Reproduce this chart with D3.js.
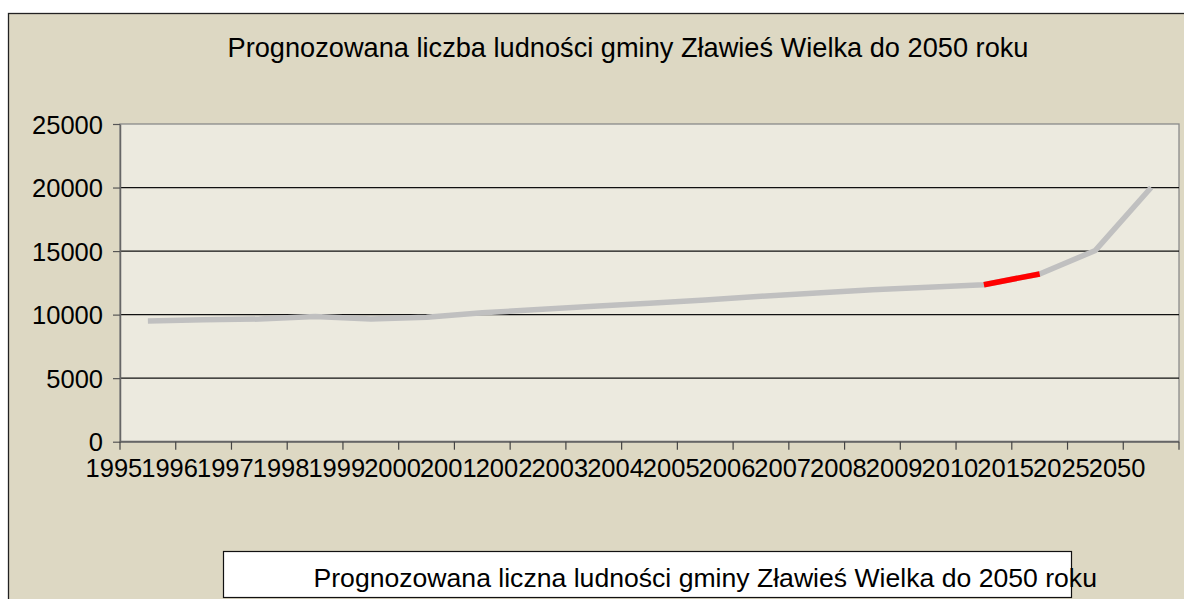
<!DOCTYPE html>
<html>
<head>
<meta charset="utf-8">
<script src="https://cdn.jsdelivr.net/npm/d3@7"></script>
<style>
  html, body { margin: 0; padding: 0; background: #ffffff; overflow: hidden; }
  text { font-family: "Liberation Sans", Arial, sans-serif; fill: #000; }
</style>
</head>
<body>
<svg id="chart" width="1184" height="599"></svg>
<script>
// data
const years = ["1995","1996","1997","1998","1999","2000","2001","2002","2003","2004",
               "2005","2006","2007","2008","2009","2010","2015","2025","2050"];
const population = [9500, 9600, 9650, 9850, 9650, 9800, 10150, 10400, 10650, 10900,
                    11150, 11450, 11700, 11950, 12150, 12350, 13200, 15050, 20000];
const highlightYears = ["2010", "2015"];
const yTicks = [0, 5000, 10000, 15000, 20000, 25000];
const chartTitle = "Prognozowana liczba ludności gminy Zławieś Wielka do 2050 roku";
const legendLabel = "Prognozowana liczna ludności gminy Zławieś Wielka do 2050 roku";

let margin = {top: 124, right: 5, bottom: 158, left: 120},
    width = 1184 - margin.left - margin.right,
    height = 599 - margin.top - margin.bottom + 0.7;

const svg = d3.select("#chart");

// outer chart area (runs off the right and bottom edge like the original)
svg.append("rect")
  .attr("x", 8.5).attr("y", 13.5)
  .attr("width", 1240).attr("height", 620)
  .style("fill", "#ddd8c3")
  .style("stroke", "#222")
  .style("stroke-width", 1.3);

svg.append("text")
  .attr("x", 8 + 1240 / 2)
  .attr("y", 57)
  .attr("text-anchor", "middle")
  .style("font-size", "27.2px")
  .text(chartTitle);

let x = d3.scaleBand().domain(years).range([0, width]);
let y = d3.scaleLinear().domain([0, 25000]).range([height, 0]);

let g = svg.append("g")
  .attr("transform", "translate(" + margin.left + "," + margin.top + ")");

g.append("rect")
  .attr("width", width).attr("height", height)
  .style("fill", "#eceadf")
  .style("stroke", "#8a8a8a")
  .style("stroke-width", 1.3);

// grid
g.selectAll(".grid")
  .data(yTicks.filter(d => d > 0 && d < 25000))
  .enter().append("line")
  .attr("class", "grid")
  .attr("x1", 0).attr("x2", width)
  .attr("y1", d => y(d)).attr("y2", d => y(d))
  .style("stroke", "#111")
  .style("stroke-width", 1.2);

// y axis
let yAxis = d3.axisLeft(y)
  .tickValues(yTicks)
  .tickFormat(d3.format("d"))
  .tickSize(7).tickPadding(10).tickSizeOuter(0);
let yG = g.append("g").call(yAxis);
yG.select(".domain").style("stroke", "#666").style("stroke-width", 1.5);
yG.selectAll(".tick line").style("stroke", "#555").style("stroke-width", 1.2);
yG.selectAll(".tick text").style("font-size", "25.5px").attr("dy", "0.36em");

// x axis: ticks on category boundaries, labels shifted like the original
let xG = g.append("g").attr("transform", "translate(0," + height + ")");
xG.append("line")
  .attr("x1", 0).attr("x2", width)
  .style("stroke", "#666").style("stroke-width", 2);
xG.selectAll(".xtick")
  .data(years.concat(["end"]))
  .enter().append("line")
  .attr("class", "xtick")
  .attr("x1", d => d === "end" ? width : x(d))
  .attr("x2", d => d === "end" ? width : x(d))
  .attr("y1", 0).attr("y2", 8)
  .style("stroke", "#444").style("stroke-width", 1.2);
xG.selectAll(".xlabel")
  .data(years)
  .enter().append("text")
  .attr("class", "xlabel")
  .attr("x", d => x(d) + x.bandwidth() / 2 - 34)
  .attr("y", 35)
  .attr("text-anchor", "middle")
  .style("font-size", "25.5px")
  .text(d => d);

// series
let points = years.map((d, i) => ({year: d, value: population[i]}));
let line = d3.line()
  .x(d => x(d.year) + x.bandwidth() / 2)
  .y(d => y(d.value));

g.append("path")
  .datum(points)
  .attr("d", line)
  .style("fill", "none")
  .style("stroke", "#c0c0c0")
  .style("stroke-width", 5.5)
  .style("stroke-linejoin", "round");

g.append("path")
  .datum(points.filter(d => highlightYears.includes(d.year)))
  .attr("d", line)
  .style("fill", "none")
  .style("stroke", "#ff0000")
  .style("stroke-width", 5.5);

// legend
let legend = svg.append("g").attr("transform", "translate(223.5,551.5)");
legend.append("rect")
  .attr("width", 848).attr("height", 46)
  .style("fill", "#ffffff")
  .style("stroke", "#111")
  .style("stroke-width", 1.2);
legend.append("text")
  .attr("x", 90).attr("y", 35)
  .style("font-size", "26.6px")
  .text(legendLabel);
</script>
</body>
</html>
